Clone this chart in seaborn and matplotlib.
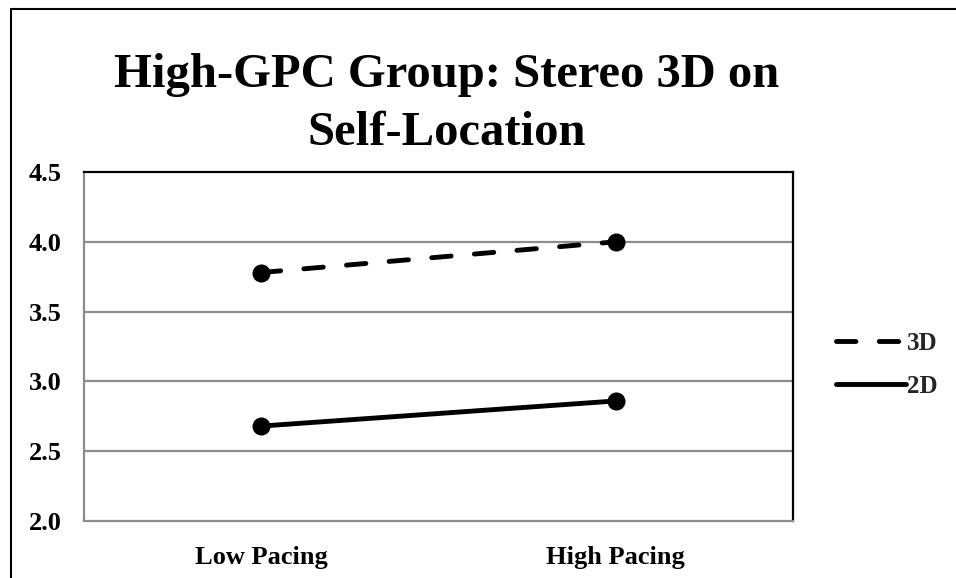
import matplotlib
matplotlib.use("Agg")
import matplotlib.pyplot as plt
import seaborn as sns
import pandas as pd

# Data
pacing = ["Low Pacing", "High Pacing"]
stereo_3d = [3.78, 4.00]
mono_2d = [2.68, 2.86]
y_ticks = [2.0, 2.5, 3.0, 3.5, 4.0, 4.5]

df = pd.DataFrame({
    "Pacing": pacing * 2,
    "Score": stereo_3d + mono_2d,
    "Condition": ["3D"] * 2 + ["2D"] * 2,
})

sns.set_theme(style="white")
plt.rcParams["font.family"] = ["Liberation Serif", "DejaVu Serif"]
plt.rcParams["font.weight"] = "bold"

W, H = 956, 578
fig = plt.figure(figsize=(W / 100, H / 100), dpi=100)
ax = fig.add_axes([84 / W, 1 - 521 / H, (793 - 84) / W, (521 - 172) / H])

LW = 3.5
sns.lineplot(
    data=df, x="Pacing", y="Score", style="Condition",
    style_order=["3D", "2D"],
    dashes={"3D": (4.0, 4.8), "2D": ""},
    markers={"3D": "o", "2D": "o"},
    color="black", linewidth=LW, markersize=13,
    markeredgewidth=0, sort=False, ax=ax,
)
for ln in ax.lines:
    ln.set_dash_capstyle("round")
    ln.set_solid_capstyle("round")

ax.set_xlim(-0.5, 1.5)
ax.set_ylim(2.0, 4.5)
ax.set_yticks(y_ticks)
ax.set_yticklabels([f"{v:.1f}" for v in y_ticks])
ax.set_xlabel("")
ax.set_ylabel("")
ax.tick_params(axis="y", length=0, pad=16, labelsize=19)
ax.tick_params(axis="x", length=0, pad=18, labelsize=19)
for lab in ax.get_xticklabels() + ax.get_yticklabels():
    lab.set_fontweight("bold")
    lab.set_color("black")

for v in y_ticks[1:-1]:
    ax.axhline(v, color="#8c8c8c", linewidth=1.6, zorder=0)

ax.spines["top"].set_color("black")
ax.spines["right"].set_color("black")
ax.spines["left"].set_color("#8c8c8c")
ax.spines["bottom"].set_color("#8c8c8c")
for s in ax.spines.values():
    s.set_linewidth(1.6)
    s.set_visible(True)

handles, labels = ax.get_legend_handles_labels()
leg = ax.legend(
    handles, labels, frameon=False, loc="center left",
    bbox_to_anchor=(813 / W, 1 - 365 / H), bbox_transform=fig.transFigure,
    handlelength=2.8, handletextpad=0.05, labelspacing=0.8,
    prop={"family": "Liberation Serif", "weight": "bold", "size": 18},
)
for h in leg.get_lines():
    h.set_marker("")
    h.set_linewidth(LW)

# Two-line title, placed by baseline
TX = 447 / W
fig.text(TX, 1 - 87 / H, "High-GPC Group: Stereo 3D on",
         ha="center", va="baseline", fontsize=35, fontweight="bold", color="black")
fig.text(TX, 1 - 145 / H, "Self-Location",
         ha="center", va="baseline", fontsize=35, fontweight="bold", color="black")

# Frame around the figure (left and top edges)
fig.add_artist(plt.Line2D([11 / W, 11 / W], [0, 1 - 9 / H],
                          transform=fig.transFigure, color="black", linewidth=1.5))
fig.add_artist(plt.Line2D([11 / W, 1], [1 - 9 / H, 1 - 9 / H],
                          transform=fig.transFigure, color="black", linewidth=1.5))

fig.savefig("out.png", dpi=100, facecolor="white")
